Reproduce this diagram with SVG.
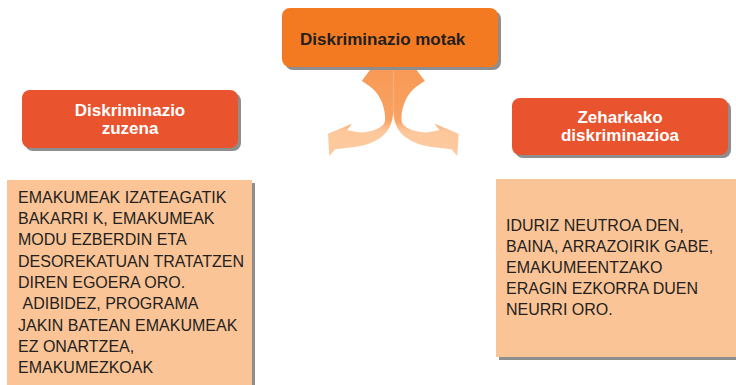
<svg xmlns="http://www.w3.org/2000/svg" width="736" height="385" viewBox="0 0 736 385">
<defs>
<style>
.hdr{font-family:"Liberation Sans",Arial,sans-serif;font-weight:bold;font-size:17px;}
.wt{fill:#ffffff;text-anchor:middle;}
.dk{fill:#231F20;}
.body{font-family:"Liberation Sans",Arial,sans-serif;font-size:16px;fill:#231F20;}
.shadow{fill:#8E8E8E;}
.red{fill:#E9532E;}
.note{fill:#FBC497;}
</style>
<linearGradient id="arrowGrad" gradientUnits="userSpaceOnUse" x1="0" y1="70" x2="0" y2="157">
<stop offset="0" stop-color="#F89A56"/>
<stop offset="0.58" stop-color="#F9A263"/>
<stop offset="0.7" stop-color="#FDC79B"/>
<stop offset="1" stop-color="#FDCBA0"/>
</linearGradient>
<path id="arrowShape" d="M 361.7 81 L 370 70 L 393.3 70 L 393.3 112 C 392.5 123 389 131 381.7 136.7 C 375 141.5 366 145.5 355 147 L 335.3 149.3 L 329.3 156 L 328 133.7 L 352 123.7 L 347 130.3 L 360 132.5 C 372 132 384 128 385 121 C 386 110 381 96 373 89 C 369 85.5 365 83 361.7 81 Z"/>
</defs>
<rect width="736" height="385" fill="#ffffff"/>

<g id="connectors">
<use href="#arrowShape" fill="url(#arrowGrad)"/>
<use href="#arrowShape" fill="url(#arrowGrad)" transform="translate(786.6 0) scale(-1 1)"/>
</g>

<g id="node-top">
<rect x="285" y="11" width="216" height="59" rx="8" class="shadow"/>
<rect x="282" y="8" width="216" height="59" rx="8" fill="#F47A22"/>
<text x="300" y="45" class="hdr dk">Diskriminazio motak</text>
</g>

<g id="node-zuzena">
<rect x="25" y="93" width="216" height="58" rx="8" class="shadow"/>
<rect x="22" y="90" width="216" height="58" rx="8" class="red"/>
<text class="hdr wt"><tspan x="130" y="115.5">Diskriminazio</tspan><tspan x="130" y="133.5">zuzena</tspan></text>
</g>

<g id="node-zeharkako">
<rect x="515" y="101" width="216" height="57" rx="8" class="shadow"/>
<rect x="512" y="98" width="216" height="57" rx="8" class="red"/>
<text class="hdr wt"><tspan x="620" y="123.3">Zeharkako</tspan><tspan x="620" y="140.7">diskriminazioa</tspan></text>
</g>

<g id="note-zuzena">
<rect x="10" y="183" width="245" height="205" class="shadow"/>
<rect x="7" y="180" width="245" height="208" class="note"/>
<text class="body">
<tspan x="18" y="202.7">EMAKUMEAK IZATEAGATIK</tspan>
<tspan x="18" y="224">BAKARRI K, EMAKUMEAK</tspan>
<tspan x="18" y="245.3">MODU EZBERDIN ETA</tspan>
<tspan x="18" y="266.6">DESOREKATUAN TRATATZEN</tspan>
<tspan x="18" y="287.9">DIREN EGOERA ORO.</tspan>
<tspan x="22.5" y="309.2">ADIBIDEZ, PROGRAMA</tspan>
<tspan x="18" y="330.5">JAKIN BATEAN EMAKUMEAK</tspan>
<tspan x="18" y="351.8">EZ ONARTZEA,</tspan>
<tspan x="18" y="373.1">EMAKUMEZKOAK</tspan>
</text>
</g>

<g id="note-zeharkako">
<rect x="499" y="182" width="240" height="178" class="shadow"/>
<rect x="496" y="179" width="240" height="178" class="note"/>
<text class="body">
<tspan x="506" y="231">IDURIZ NEUTROA DEN,</tspan>
<tspan x="506" y="252">BAINA, ARRAZOIRIK GABE,</tspan>
<tspan x="506" y="273">EMAKUMEENTZAKO</tspan>
<tspan x="506" y="294">ERAGIN EZKORRA DUEN</tspan>
<tspan x="506" y="315">NEURRI ORO.</tspan>
</text>
</g>
</svg>
